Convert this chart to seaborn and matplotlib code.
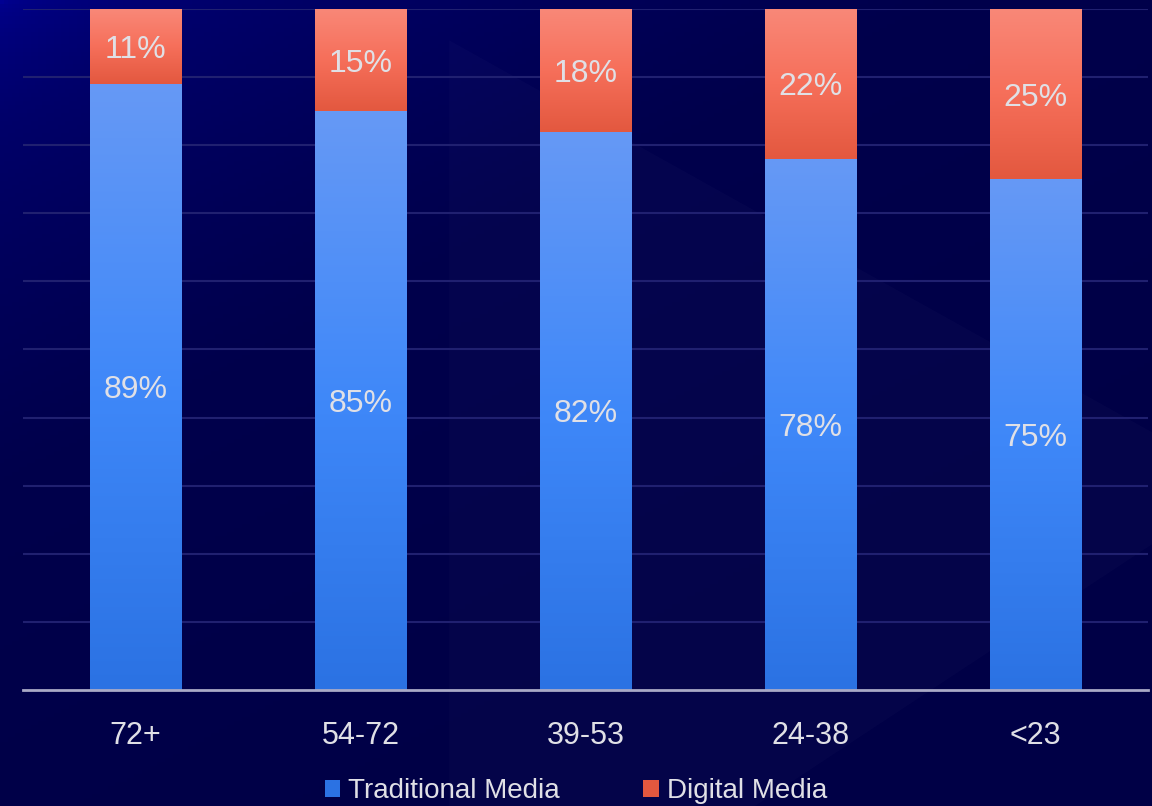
import numpy as np
import pandas as pd
import seaborn as sns
import matplotlib.pyplot as plt
from matplotlib.colors import LinearSegmentedColormap
from matplotlib.patches import Patch, Polygon

# Data
age_groups = ['72+', '54-72', '39-53', '24-38', '<23']
traditional = [89, 85, 82, 78, 75]
digital = [11, 15, 18, 22, 25]

df = pd.DataFrame({'age': age_groups, 'traditional': traditional, 'digital': digital})
df['total'] = df['traditional'] + df['digital']

sns.set_theme(style='white')
plt.rcParams['font.family'] = ['Liberation Sans', 'DejaVu Sans']

text_col = '#e0e0e6'
blue_top, blue_bot = '#6699f5', '#2b72e3'
red_top, red_bot = '#f98878', '#e3583f'

fig = plt.figure(figsize=(11.52, 8.06), dpi=100)

# Background: diagonal navy gradient with a faint triangle
bg = fig.add_axes([0, 0, 1, 1], zorder=-10)
yy, xx = np.mgrid[0:1:200j, 0:1:300j]
t = np.clip(0.55 * xx + 0.75 * yy, 0, 1) ** 0.5
bg_cmap = LinearSegmentedColormap.from_list('bg', ['#000092', '#00006a', '#00004c', '#000046'])
bg.imshow(t, cmap=bg_cmap, aspect='auto', extent=[0, 1, 0, 1], origin='upper')
bg.add_patch(Polygon([(0.39, 0.95), (1.08, 0.40), (0.39, -0.25)], closed=True,
                     facecolor='white', alpha=0.02, edgecolor='none'))
bg.set_xlim(0, 1)
bg.set_ylim(0, 1)
bg.axis('off')

ax = fig.add_axes([0.02, 0.1439, 0.9765, 0.845])
ax.set_facecolor('none')

# Stacked bars: full total in red, traditional share over it in blue
sns.barplot(data=df, x='age', y='total', color=red_bot, width=0.405, ax=ax,
            saturation=1, linewidth=0, zorder=3)
sns.barplot(data=df, x='age', y='traditional', color=blue_bot, width=0.405, ax=ax,
            saturation=1, linewidth=0, zorder=4)

red_bars = ax.containers[0]
blue_bars = ax.containers[1]

# Vertical gradients clipped to each bar
grad = np.linspace(0, 1, 256).reshape(-1, 1)
blue_cmap = LinearSegmentedColormap.from_list('b', [blue_top, '#3f88f9', blue_bot])
red_cmap = LinearSegmentedColormap.from_list('r', [red_top, '#f66f5a', red_bot])
for rb, bb in zip(red_bars, blue_bars):
    x0 = bb.get_x()
    x1 = x0 + bb.get_width()
    h_blue = bb.get_height()
    h_tot = rb.get_height()
    ax.imshow(grad, cmap=blue_cmap, aspect='auto', extent=[x0, x1, 0, h_blue],
              origin='upper', zorder=5)
    ax.imshow(grad, cmap=red_cmap, aspect='auto', extent=[x0, x1, h_blue, h_tot],
              origin='upper', zorder=5)

# Value labels, centred in each segment
for i, (tr, dg) in enumerate(zip(traditional, digital)):
    ax.text(i, tr / 2, f'{tr}%', ha='center', va='center_baseline', color=text_col,
            fontsize=23, zorder=6)
    ax.text(i, tr + dg / 2, f'{dg}%', ha='center', va='center_baseline', color=text_col,
            fontsize=23, zorder=6)

ax.set_xlim(-0.5, len(age_groups) - 0.5)
ax.set_ylim(0, 100)
ax.set_yticks(np.arange(10, 101, 10))
ax.yaxis.grid(True, color='#202070', linewidth=1.5, zorder=1)
ax.set_axisbelow(True)
ax.tick_params(axis='y', left=False, labelleft=False)
ax.tick_params(axis='x', bottom=False, labelsize=22, colors=text_col, pad=16)
ax.set_xlabel('')
ax.set_ylabel('')
for s in ['top', 'right', 'left']:
    ax.spines[s].set_visible(False)
ax.spines['bottom'].set_color('#a9a9c6')
ax.spines['bottom'].set_linewidth(2)
ax.spines['bottom'].set_zorder(7)

handles = [Patch(facecolor=blue_bot, edgecolor='none', label='Traditional Media'),
           Patch(facecolor=red_bot, edgecolor='none', label='Digital Media')]
fig.legend(handles=handles, loc='center', bbox_to_anchor=(0.5, 0.018), ncol=2,
           frameon=False, fontsize=20, labelcolor=text_col, handlelength=0.55,
           handleheight=0.55, handletextpad=0.3, columnspacing=3.0)

fig.savefig('out.png', dpi=100)
